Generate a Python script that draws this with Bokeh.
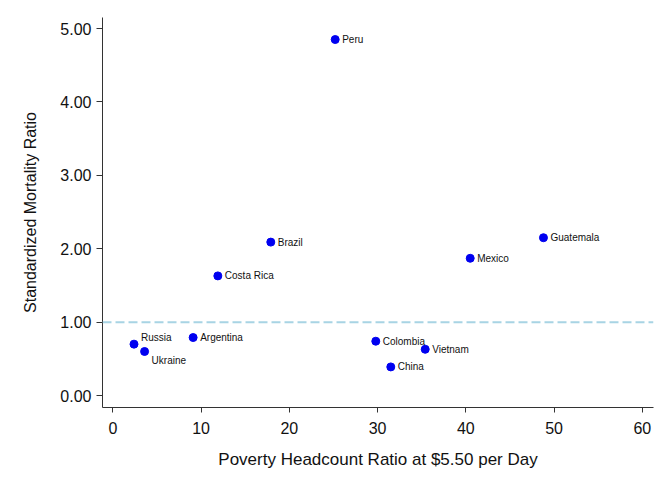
from bokeh.plotting import figure
from bokeh.models import Range1d, FixedTicker, NumeralTickFormatter, ColumnDataSource, Span
from bokeh.core.properties import value
from bokeh.embed import file_html
from bokeh.resources import INLINE

countries = ["Peru", "Brazil", "Costa Rica", "Russia", "Ukraine", "Argentina",
             "Colombia", "Vietnam", "China", "Mexico", "Guatemala"]
poverty = [25.2, 17.9, 11.9, 2.4, 3.6, 9.1, 29.8, 35.4, 31.5, 40.5, 48.8]
smr = [4.85, 2.09, 1.63, 0.70, 0.60, 0.79, 0.74, 0.63, 0.39, 1.87, 2.15]
x_ticks = [0, 10, 20, 30, 40, 50, 60]
y_ticks = [0, 1, 2, 3, 4, 5]
reference_smr = 1.0

# label placement (pixel offsets) - styling only
label_dx = {c: 7 for c in countries}
label_dy = {c: 0 for c in countries}
label_dy["Russia"] = -7
label_dy["Ukraine"] = 9

src = ColumnDataSource(dict(
    x=poverty, y=smr, name=countries,
    dx=[label_dx[c] for c in countries],
    dy=[label_dy[c] for c in countries],
))

p = figure(width=654, height=471, output_backend="svg", toolbar_location=None,
           x_range=Range1d(-1.17, 61.27), y_range=Range1d(-0.163, 5.15),
           min_border_left=102, min_border_right=1, min_border_top=17, min_border_bottom=63)
p.outline_line_color = None
p.xgrid.grid_line_color = None
p.ygrid.grid_line_color = None
p.background_fill_color = "white"
p.border_fill_color = "white"

span = Span(location=reference_smr, dimension="width", line_color="#a8d4e4",
            line_width=2, line_dash="9 4")
p.add_layout(span)

p.scatter("x", "y", source=src, size=8, color="#0000f0", line_color="#0000f0")
p.text("x", "y", text="name", source=src, x_offset="dx", y_offset="dy",
       text_font=value("Liberation Sans"), text_font_size="10px",
       text_baseline="middle", text_align="left", text_color="#111111")

for ax in (p.xaxis[0], p.yaxis[0]):
    ax.axis_line_color = "#333333"
    ax.major_tick_line_color = "#333333"
    ax.minor_tick_line_color = None
    ax.major_tick_in = 0
    ax.major_label_text_font = "Liberation Sans"
    ax.axis_label_text_font = "Liberation Sans"
    ax.axis_label_text_font_style = "normal"
    ax.major_label_text_color = "#111111"
    ax.axis_label_text_color = "#111111"

p.xaxis.ticker = FixedTicker(ticks=x_ticks)
p.yaxis.ticker = FixedTicker(ticks=y_ticks)
p.yaxis.formatter = NumeralTickFormatter(format="0.00")
p.xaxis.major_tick_out = 5
p.yaxis.major_tick_out = 6
p.xaxis.major_label_text_font_size = "16px"
p.yaxis.major_label_text_font_size = "16px"
p.xaxis.axis_label_text_font_size = "17px"
p.yaxis.axis_label_text_font_size = "16px"
p.xaxis.major_label_standoff = 9
p.yaxis.major_label_standoff = 5
p.xaxis.axis_label = "Poverty Headcount Ratio at $5.50 per Day"
p.yaxis.axis_label = "Standardized Mortality Ratio"
p.xaxis.axis_label_standoff = 13
p.yaxis.axis_label_standoff = 18

open("out.html", "w").write(file_html(p, INLINE))
